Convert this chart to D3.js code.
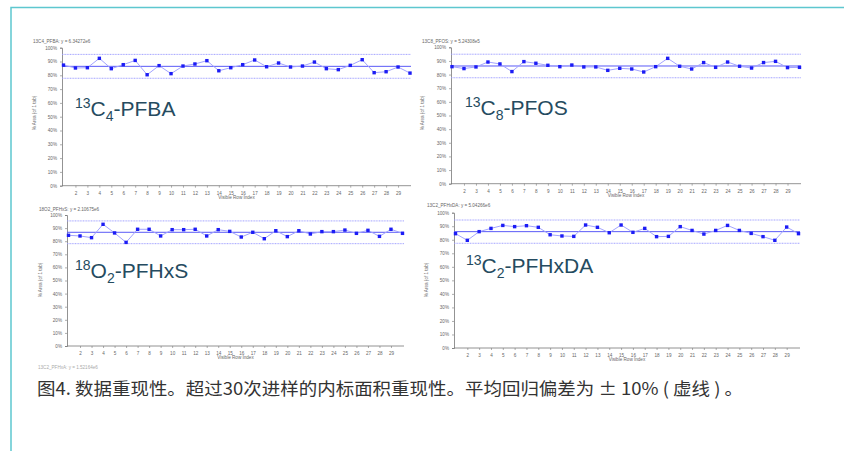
<!DOCTYPE html>
<html>
<head>
<meta charset="utf-8">
<script src="https://cdn.jsdelivr.net/npm/d3@7"></script>
<style>
  body { margin: 0; background: #fff; }
  svg { display: block; }
</style>
</head>
<body>
<div id="chart"></div>
<script>
// injection index (1..30), only 2..29 get labels
const rowIndex = d3.range(1, 31);
const tickLabels = d3.range(2, 30);
const yTicks = [0, 10, 20, 30, 40, 50, 60, 70, 80, 90, 100];

// % area of first injection
const pfba = [87.4, 85.3, 85.5, 92.3, 84.8, 87.7, 90.8, 80.4, 87.0, 81.2,
  86.7, 88.2, 90.6, 83.3, 85.5, 87.7, 91.1, 86.2, 88.9, 86.0,
  86.7, 89.6, 84.8, 84.1, 87.2, 91.3, 81.9, 82.6, 86.0, 81.6];
const pfos = [85.8, 84.4, 85.6, 89.2, 87.8, 82.2, 89.5, 88.3, 86.8, 85.8,
  87.0, 85.6, 85.6, 83.1, 84.6, 84.1, 81.9, 85.8, 91.9, 86.1,
  84.1, 88.8, 85.3, 89.2, 86.1, 84.8, 88.8, 89.7, 85.1, 85.3];
const pfhxs = [84.5, 84.0, 82.7, 92.9, 86.3, 79.1, 89.1, 89.1, 84.0, 88.8,
  88.8, 89.1, 84.0, 88.8, 87.5, 83.2, 86.8, 81.9, 88.0, 83.5,
  88.0, 85.5, 87.3, 87.3, 88.5, 86.0, 88.3, 83.7, 89.1, 86.0];
const pfhxda = [84.5, 79.6, 86.0, 88.4, 90.6, 89.7, 90.4, 89.2, 83.7, 82.8,
  82.5, 90.9, 89.2, 85.2, 90.9, 85.5, 88.4, 82.3, 82.5, 89.7,
  86.9, 84.2, 86.9, 90.6, 86.9, 84.7, 82.3, 79.6, 89.4, 84.5];

// mean line and the +/-10% dotted bands
const means = [86.5, 86.3, 86.8, 86.0];
const bandPct = 0.1;

const plotTitles = [
  "13C4_PFBA: y = 6.34272e6",
  "13C8_PFOS: y = 5.24308e5",
  "18O2_PFHxS: y = 2.10675e6",
  "13C2_PFHxDA: y = 5.04266e6",
];
// big label: [superscript, element, subscript, rest]
const bigLabels = [
  ["13", "C", "4", "-PFBA"],
  ["13", "C", "8", "-PFOS"],
  ["18", "O", "2", "-PFHxS"],
  ["13", "C", "2", "-PFHxDA"],
];
const series = [pfba, pfos, pfhxs, pfhxda];

const caption = "图4. 数据重现性。超过30次进样的内标面积重现性。平均回归偏差为 ± 10% ( 虚线 ) 。";

const width = 844;
const height = 451;

const svg = d3.select("#chart").append("svg")
  .attr("width", width)
  .attr("height", height);

svg.append("rect").attr("width", width).attr("height", height).attr("fill", "#fff");

// panel boxes: axis left/right, y of 100% and 0%, x of first/last point
const panels = [
  { left: 62, right: 411, top: 47.7, bottom: 185.7, x0: 63.5, x1: 410, titleX: 33, titleY: 43, labelX: 75, labelY: 116, yLabX: 36, yLabY: 113, tickY: 194 },
  { left: 451, right: 801, top: 47.3, bottom: 183.7, x0: 452, x1: 799.5, titleX: 422, titleY: 43, labelX: 465, labelY: 115, yLabX: 424, yLabY: 113, tickY: 192 },
  { left: 67, right: 404, top: 215, bottom: 346, x0: 68.5, x1: 402.5, titleX: 39, titleY: 211, labelX: 75, labelY: 278, yLabX: 41.5, yLabY: 280, tickY: 354 },
  { left: 454, right: 800, top: 212.7, bottom: 348, x0: 455.5, x1: 798.5, titleX: 427, titleY: 207, labelX: 466, labelY: 273, yLabX: 427.5, yLabY: 280, tickY: 356 },
];

panels.forEach((p, i) => {
  const g = svg.append("g");
  const x = d3.scaleLinear().domain([1, 30]).range([p.x0, p.x1]);
  const y = d3.scaleLinear().domain([0, 100]).range([p.bottom, p.top]);

  // y axis
  const yAxis = g.append("g")
    .attr("transform", `translate(${p.left},0)`)
    .call(d3.axisLeft(y).tickValues(yTicks).tickSize(2).tickFormat((d) => d + "%"));
  // x axis
  const xAxis = g.append("g")
    .attr("transform", `translate(0,${p.bottom})`)
    .call(d3.axisBottom(x).tickValues(tickLabels).tickSize(2).tickFormat(d3.format("d")));
  [yAxis, xAxis].forEach((a) => {
    a.select(".domain").attr("stroke", "#777").attr("stroke-width", 0.8);
    a.selectAll(".tick line").attr("stroke", "#777").attr("stroke-width", 0.6);
    a.selectAll("text").attr("fill", "#666").style("font-size", "4.6px")
      .style("font-family", "Liberation Sans, Arial, sans-serif");
  });
  xAxis.select(".domain").attr("d", `M${p.left},0H${p.right}`);
  xAxis.selectAll(".tick text").attr("dy", "0.9em");

  // mean and band lines
  const m = means[i];
  [m * (1 + bandPct), m * (1 - bandPct)].forEach((v) => {
    g.append("line")
      .attr("x1", p.left).attr("x2", p.right)
      .attr("y1", y(v)).attr("y2", y(v))
      .attr("stroke", "#9a9aff").attr("stroke-width", 0.9)
      .attr("stroke-dasharray", "1,0.6");
  });
  g.append("line")
    .attr("x1", p.left).attr("x2", p.right)
    .attr("y1", y(m)).attr("y2", y(m))
    .attr("stroke", "#5a5af7").attr("stroke-width", 1);

  const vals = series[i];
  g.append("path")
    .datum(rowIndex)
    .attr("fill", "none")
    .attr("stroke", "#a3a3ff")
    .attr("stroke-width", 1)
    .attr("d", d3.line().x((d) => x(d)).y((d) => y(vals[d - 1])));

  g.selectAll("rect.pt")
    .data(rowIndex)
    .join("rect")
    .attr("class", "pt")
    .attr("x", (d) => x(d) - 1.7)
    .attr("y", (d) => y(vals[d - 1]) - 1.7)
    .attr("width", 3.4)
    .attr("height", 3.4)
    .attr("fill", "#1c1cf5");

  // small header and axis titles
  g.append("text")
    .attr("x", p.titleX).attr("y", p.titleY)
    .text(plotTitles[i])
    .attr("fill", "#666")
    .style("font-size", "4.6px")
    .style("font-family", "Liberation Sans, Arial, sans-serif");
  g.append("text")
    .attr("x", (p.left + p.right) / 2).attr("y", p.tickY + 5)
    .attr("text-anchor", "middle")
    .text("Visible Row Index")
    .attr("fill", "#666")
    .style("font-size", "4.6px")
    .style("font-family", "Liberation Sans, Arial, sans-serif");
  g.append("text")
    .attr("transform", `translate(${p.yLabX},${p.yLabY}) rotate(-90)`)
    .attr("text-anchor", "middle")
    .text("% Area (of 1 tab)")
    .attr("fill", "#666")
    .style("font-size", "4.6px")
    .style("font-family", "Liberation Sans, Arial, sans-serif");

  // big compound label
  const lab = bigLabels[i];
  const t = g.append("text")
    .attr("x", p.labelX).attr("y", p.labelY)
    .attr("fill", "#254b60")
    .style("font-size", "21px")
    .style("font-family", "Liberation Sans, Arial, sans-serif");
  t.append("tspan").attr("dy", -8).style("font-size", "14px").text(lab[0]);
  t.append("tspan").attr("dy", 8).text(lab[1]);
  t.append("tspan").attr("dy", 4.5).style("font-size", "14px").text(lab[2]);
  t.append("tspan").attr("dy", -4.5).text(lab[3]);
});

// faint cut-off header of the next plot below
svg.append("text")
  .attr("x", 38).attr("y", 369)
  .text("13C2_PFHxA: y = 1.52164e6")
  .attr("fill", "#aaa")
  .style("font-size", "4.6px")
  .style("font-family", "Liberation Sans, Arial, sans-serif");

// caption
svg.append("text")
  .attr("x", 37).attr("y", 395)
  .attr("textLength", 706)
  .attr("lengthAdjust", "spacingAndGlyphs")
  .text(caption)
  .attr("fill", "#333")
  .style("font-size", "17.5px")
  .style("font-family", "'Noto Sans CJK SC', 'Noto Sans', sans-serif");

// teal frame on top and left
svg.append("path")
  .attr("d", `M11,${height}V7.5H${width}`)
  .attr("fill", "none")
  .attr("stroke", "#5ec7cf")
  .attr("stroke-width", 1.5);
</script>
</body>
</html>
